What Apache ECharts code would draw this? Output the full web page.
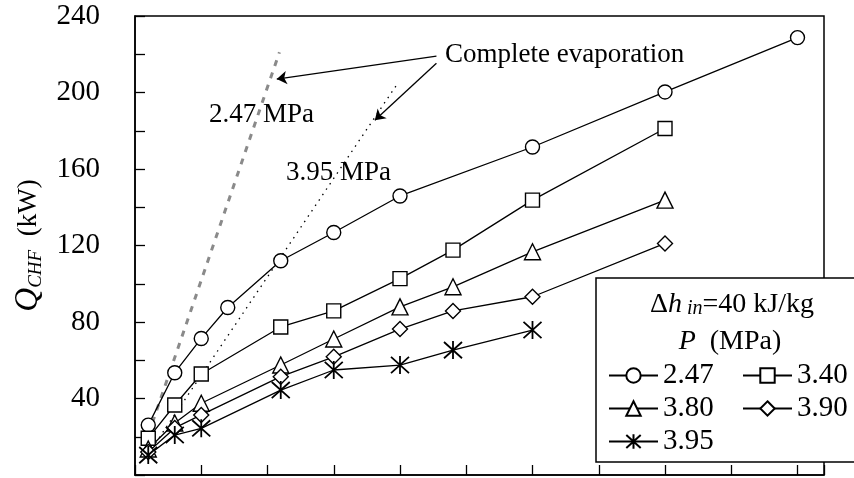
<!DOCTYPE html>
<html>
<head>
<meta charset="utf-8">
<script src="https://cdn.jsdelivr.net/npm/echarts@6/dist/echarts.min.js"></script>
<style>
  html, body { margin: 0; padding: 0; background: #fff; }
  #chart { width: 854px; height: 478px; }
</style>
</head>
<body>
<div id="chart"></div>
<script>
// Flow positions (arbitrary units, axis unlabeled)
const xCircle = [0.2, 0.6, 1.0, 1.4, 2.2, 3.0, 4.0, 6.0, 8.0, 10.0];
const xOther  = [0.2, 0.6, 1.0, 2.2, 3.0, 4.0, 4.8, 6.0, 8.0];

// Critical heat flux power Q_CHF (kW) for each pressure (MPa)
const q247 = [26.1, 53.5, 71.4, 87.6, 112.0, 126.8, 145.9, 171.5, 200.3, 228.7];
const q340 = [19.2, 36.6, 52.8, 77.4, 85.8, 102.7, 117.6, 143.7, 181.2];
const q380 = [13.6, 27.2, 37.5, 57.5, 71.1, 87.9, 98.4, 116.7, 143.7];
const q390 = [12.0, 24.6, 31.4, 51.4, 61.8, 76.3, 85.8, 93.2, 121.1];
const q395 = [10.4, 20.9, 24.4, 44.4, 54.9, 57.5, 65.3, 75.8];

const pressureNames = ['2.47', '3.40', '3.80', '3.90', '3.95'];

// Complete-evaporation limit lines
const evap247 = [[0.2, 21], [2.18, 221]];
const evap395 = [[0.2, 11], [3.95, 204]];

// Arrows from the "Complete evaporation" note to the two limit lines
const arrowFrom = [[4.55, 219.0], [4.55, 215.3]];
const arrowTo   = [[2.14, 207.0], [3.62, 185.5]];

const yTicks = [40, 80, 120, 160, 200, 240];

const FONT = 'Liberation Serif';
const STAR = 'path://M10,0L10,20M1,1L19,19M1,19L19,1';

function zip(xs, ys) { return ys.map((y, i) => [xs[i], y]); }

function dataSeries(name, xs, ys, symbol, size) {
  return {
    name: name,
    type: 'line',
    data: zip(xs, ys),
    symbol: symbol,
    symbolSize: size,
    showAllSymbol: true,
    lineStyle: { color: '#000', width: 1.3 },
    itemStyle: {
      color: symbol === STAR ? '#000' : '#fff',
      borderColor: '#000',
      borderWidth: symbol === STAR ? 1.8 : 1.4
    },
    emphasis: { disabled: true },
    z: 3
  };
}

const chart = echarts.init(document.getElementById('chart'), null, { renderer: 'canvas' });

const legendBase = {
  orient: 'vertical',
  top: 361,
  padding: 0,
  itemGap: 4,
  itemWidth: 49, itemHeight: 18,
  textStyle: { color: '#000', fontFamily: FONT, fontSize: 29 },
  selectedMode: false,
  z: 10
};

const option = {
  animation: false,
  backgroundColor: '#fff',
  textStyle: { fontFamily: FONT },
  grid: {
    left: 135, right: 30, top: 16, bottom: 3,
    show: true, borderColor: '#000', borderWidth: 1.5, backgroundColor: 'transparent'
  },
  xAxis: {
    type: 'value',
    min: 0, max: 10.4, interval: 1,
    axisLine: { lineStyle: { color: '#000', width: 1.5 } },
    axisTick: { inside: true, length: 10, lineStyle: { color: '#000', width: 1.3 } },
    axisLabel: { show: false },
    splitLine: { show: false }
  },
  yAxis: {
    type: 'value',
    min: 0, max: 240, interval: 20,
    name: '{q|Q}{s|CHF}{u|  (kW)}',
    nameLocation: 'middle',
    nameRotate: 90,
    nameGap: 90,
    nameTextStyle: {
      color: '#000',
      fontFamily: FONT,
      rich: {
        q: { fontFamily: FONT, fontStyle: 'italic', fontSize: 33, color: '#000' },
        s: { fontFamily: FONT, fontStyle: 'italic', fontSize: 19, color: '#000', verticalAlign: 'bottom' },
        u: { fontFamily: FONT, fontSize: 27, color: '#000' }
      }
    },
    axisLine: { lineStyle: { color: '#000', width: 1.5 } },
    axisTick: { inside: true, length: 10, lineStyle: { color: '#000', width: 1.3 } },
    axisLabel: {
      margin: 35,
      color: '#000',
      fontFamily: FONT,
      fontSize: 29,
      formatter: v => (yTicks.indexOf(v) >= 0 ? String(v) : '')
    },
    splitLine: { show: false }
  },
  legend: [
    Object.assign({}, legendBase, { data: ['2.47', '3.80', '3.95'], left: 608 }),
    Object.assign({}, legendBase, { data: ['3.40', '3.90'], left: 742 })
  ],
  graphic: [
    {
      type: 'rect', z: 8,
      shape: { x: 596, y: 278, width: 270, height: 184 },
      style: { fill: '#fff', stroke: '#000', lineWidth: 1.5 }
    },
    {
      type: 'text', z: 9, x: 732, y: 305,
      style: {
        text: '{d|Δ}{h|h}{s| in}{n|=40 kJ/kg}',
        align: 'center', verticalAlign: 'middle',
        rich: {
          d: { fontFamily: FONT, fontSize: 28, fill: '#000' },
          h: { fontFamily: FONT, fontSize: 28, fontStyle: 'italic', fill: '#000' },
          s: { fontFamily: FONT, fontSize: 20, fontStyle: 'italic', fill: '#000', verticalAlign: 'bottom' },
          n: { fontFamily: FONT, fontSize: 28, fill: '#000' }
        }
      }
    },
    {
      type: 'text', z: 9, x: 730, y: 342,
      style: {
        text: '{p|P}{n|  (MPa)}',
        align: 'center', verticalAlign: 'middle',
        rich: {
          p: { fontFamily: FONT, fontSize: 28, fontStyle: 'italic', fill: '#000' },
          n: { fontFamily: FONT, fontSize: 28, fill: '#000' }
        }
      }
    },
    {
      type: 'text', z: 9, x: 445, y: 55,
      style: { text: 'Complete evaporation', fontFamily: FONT, fontSize: 27, fill: '#000', verticalAlign: 'middle' }
    },
    {
      type: 'text', z: 9, x: 209, y: 115,
      style: { text: '2.47 MPa', fontFamily: FONT, fontSize: 27, fill: '#000', verticalAlign: 'middle' }
    },
    {
      type: 'text', z: 9, x: 286, y: 173,
      style: { text: '3.95 MPa', fontFamily: FONT, fontSize: 27, fill: '#000', verticalAlign: 'middle' }
    }
  ],
  series: [
    {
      name: 'evap-2.47',
      type: 'line',
      data: evap247,
      showSymbol: false,
      lineStyle: { color: '#8a8a8a', width: 3, type: [6, 7] },
      emphasis: { disabled: true },
      z: 1,
      markLine: {
        silent: true,
        symbol: ['none', 'arrow'],
        symbolSize: 10,
        label: { show: false },
        lineStyle: { color: '#000', width: 1.3, type: 'solid' },
        emphasis: { disabled: true },
        data: arrowFrom.map((p, i) => [{ coord: p }, { coord: arrowTo[i] }])
      }
    },
    {
      name: 'evap-3.95',
      type: 'line',
      data: evap395,
      showSymbol: false,
      lineStyle: { color: '#000', width: 1.3, type: [1.5, 5] },
      emphasis: { disabled: true },
      z: 1
    },
    dataSeries(pressureNames[0], xCircle, q247, 'circle', 14),
    dataSeries(pressureNames[1], xOther, q340, 'rect', 14),
    dataSeries(pressureNames[2], xOther, q380, 'triangle', 16),
    dataSeries(pressureNames[3], xOther, q390, 'diamond', 15),
    dataSeries(pressureNames[4], xOther.slice(0, q395.length), q395, STAR, 18)
  ]
};

chart.setOption(option);
</script>
</body>
</html>
